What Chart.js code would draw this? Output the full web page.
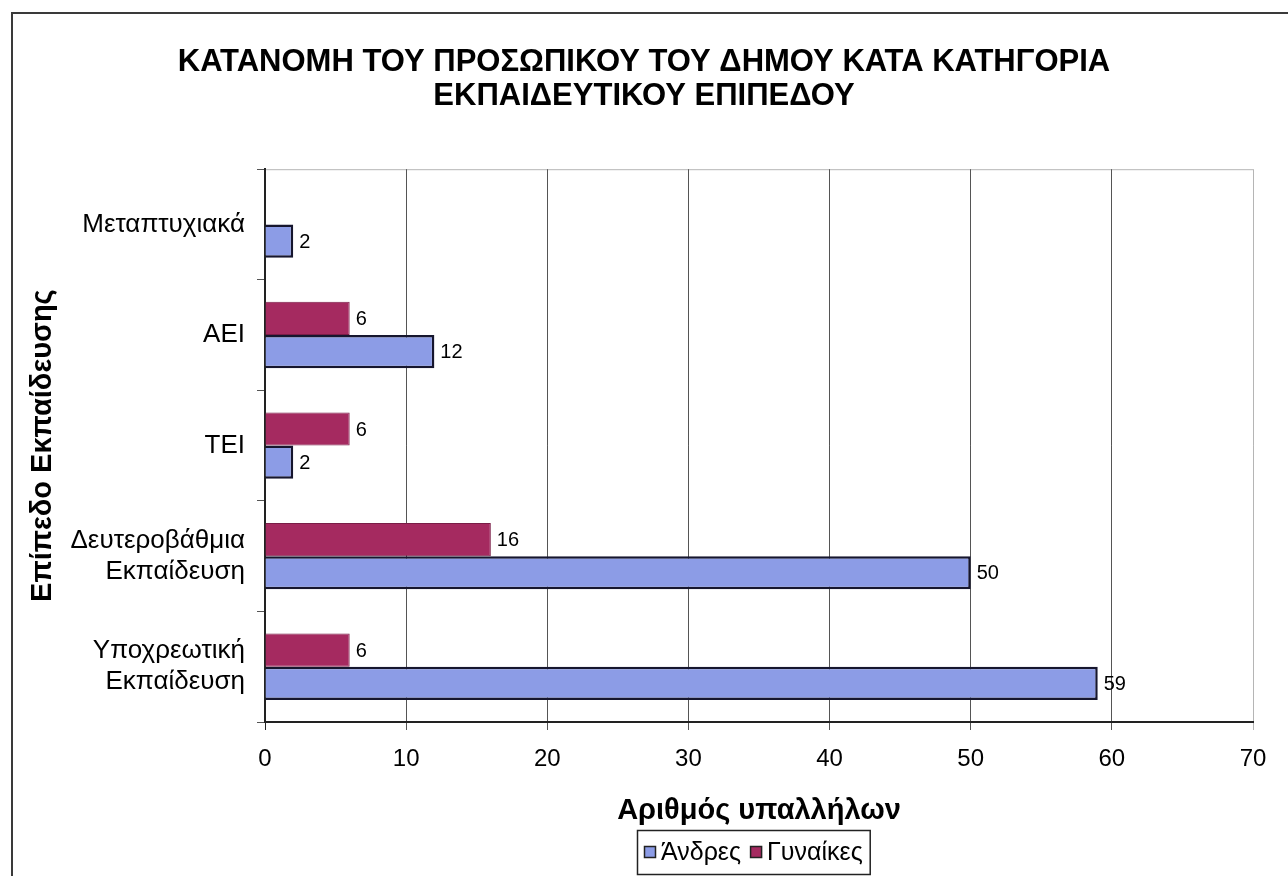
<!DOCTYPE html>
<html lang="el">
<head>
<meta charset="UTF-8">
<title>Κατανομή του προσωπικού του Δήμου</title>
<script src="https://cdn.jsdelivr.net/npm/chart.js"></script>
<style>
  html, body { margin: 0; padding: 0; background: #fff; }
  #wrap { width: 1288px; height: 876px; }
</style>
</head>
<body>
<div id="wrap"><canvas id="eduChart" width="1288" height="876"></canvas></div>
<script>
// education levels, top to bottom
const levels = [['Μεταπτυχιακά'], ['ΑΕΙ'], ['ΤΕΙ'], ['Δευτεροβάθμια', 'Εκπαίδευση'], ['Υποχρεωτική', 'Εκπαίδευση']];
const men = [2, 12, 2, 50, 59];
const women = [null, 6, 6, 16, 6];
const xMin = 0, xMax = 70, xStep = 10;

const titleLines = ['ΚΑΤΑΝΟΜΗ ΤΟΥ ΠΡΟΣΩΠΙΚΟΥ ΤΟΥ ΔΗΜΟΥ ΚΑΤΑ ΚΑΤΗΓΟΡΙΑ', 'ΕΚΠΑΙΔΕΥΤΙΚΟΥ ΕΠΙΠΕΔΟΥ'];

const BLUE = '#8c9ce6', BLUE_EDGE = '#16162e';
const RED = '#a52a60', RED_EDGE = '#7a1d47';
const FONT = '"Liberation Sans", Arial, sans-serif';

Chart.defaults.font.family = FONT;
Chart.defaults.color = '#000';

// outer frame + light top edge of the plot
const framePlugin = {
  id: 'frame',
  beforeDraw(chart) {
    const { ctx, chartArea: a } = chart;
    ctx.save();
    ctx.strokeStyle = '#3a3a3a';
    ctx.lineWidth = 2;
    ctx.beginPath();
    ctx.moveTo(12, 876); ctx.lineTo(12, 13); ctx.lineTo(1288, 13);
    ctx.stroke();
    ctx.strokeStyle = '#b5b5b5';
    ctx.lineWidth = 1;
    ctx.beginPath();
    ctx.moveTo(a.left, a.top + 0.5); ctx.lineTo(a.right, a.top + 0.5);
    ctx.stroke();
    ctx.restore();
  }
};

// value next to the end of each bar
const valueLabels = {
  id: 'valueLabels',
  afterDatasetsDraw(chart) {
    const ctx = chart.ctx;
    ctx.save();
    ctx.font = '20px ' + FONT;
    ctx.fillStyle = '#000';
    ctx.textAlign = 'left';
    ctx.textBaseline = 'middle';
    chart.data.datasets.forEach((ds, i) => {
      chart.getDatasetMeta(i).data.forEach((bar, j) => {
        const v = ds.data[j];
        if (v == null) return;
        ctx.fillText(String(v), bar.x + 6, bar.y + 1);
      });
    });
    ctx.restore();
  }
};

// boxed legend centred under the axis title
const boxLegend = {
  id: 'boxLegend',
  afterDraw(chart) {
    const ctx = chart.ctx;
    const items = [
      { text: 'Άνδρες', fill: BLUE },
      { text: 'Γυναίκες', fill: RED }
    ];
    const cx = 753, cy = 852, sq = 12, gap = 5, itemGap = 9, padX = 7, h = 44;
    ctx.save();
    ctx.font = '25px ' + FONT;
    const widths = items.map(it => sq + gap + ctx.measureText(it.text).width);
    const w = widths.reduce((s, x) => s + x, 0) + itemGap * (items.length - 1) + padX * 2;
    const left = Math.round(cx - w / 2), top = Math.round(cy - h / 2);
    ctx.fillStyle = '#fff';
    ctx.fillRect(left, top, w, h);
    ctx.strokeStyle = '#222';
    ctx.lineWidth = 1.5;
    ctx.strokeRect(left + 0.5, top + 0.5, w, h);
    let x = left + padX;
    ctx.textBaseline = 'middle';
    items.forEach((it, i) => {
      ctx.fillStyle = it.fill;
      ctx.fillRect(x, cy - sq / 2, sq, sq);
      ctx.strokeStyle = '#222';
      ctx.lineWidth = 1.5;
      ctx.strokeRect(x + 0.5, cy - sq / 2 + 0.5, sq - 1, sq - 1);
      ctx.fillStyle = '#000';
      ctx.fillText(it.text, x + sq + gap, cy + 1);
      x += widths[i] + itemGap;
    });
    ctx.restore();
  }
};

new Chart(document.getElementById('eduChart'), {
  type: 'bar',
  data: {
    labels: levels,
    datasets: [
      {
        label: 'Γυναίκες',
        data: women,
        backgroundColor: RED,
        borderColor: RED_EDGE,
        borderWidth: 1
      },
      {
        label: 'Άνδρες',
        data: men,
        backgroundColor: BLUE,
        borderColor: BLUE_EDGE,
        borderWidth: 2.5
      }
    ]
  },
  options: {
    responsive: false,
    animation: false,
    indexAxis: 'y',
    categoryPercentage: 0.6,
    barPercentage: 1,
    layout: { padding: { left: 0, right: 0, top: 0, bottom: 47 } },
    plugins: {
      legend: { display: false },
      tooltip: { enabled: false },
      title: {
        display: true,
        text: titleLines,
        color: '#000',
        font: { size: 31, weight: 'bold', lineHeight: 1.1 },
        padding: { top: 45, bottom: 56 }
      }
    },
    scales: {
      x: {
        type: 'linear',
        min: xMin,
        max: xMax,
        ticks: { stepSize: xStep, font: { size: 24 }, color: '#000', padding: 15 },
        grid: {
          color: ctx => ctx.index === 0 ? '#222' : (ctx.tick && ctx.tick.value === xMax ? '#b5b5b5' : '#555'),
          tickLength: 8,
          lineWidth: 1
        },
        border: { color: '#222', width: 2 },
        title: {
          display: true,
          text: 'Αριθμός υπαλλήλων',
          color: '#000',
          font: { size: 29, weight: 'bold' },
          padding: { top: 0, bottom: 1 }
        },
        afterFit(s) { s.height = 107; }
      },
      y: {
        type: 'category',
        grid: { drawOnChartArea: false, drawTicks: true, tickLength: 8, color: '#555', offset: true },
        border: { color: '#222', width: 2 },
        ticks: { font: { size: 26, lineHeight: 1.2 }, color: '#000', padding: 12 },
        title: {
          display: true,
          text: 'Επίπεδο Εκπαίδευσης',
          color: '#000',
          font: { size: 29, weight: 'bold' },
          padding: { top: 26, bottom: 0 }
        },
        afterFit(s) { s.width = 265; }
      },
      // empty right-hand margin so the title centres on the whole chart
      yRight: {
        type: 'linear',
        position: 'right',
        min: 0,
        max: 1,
        ticks: { display: false },
        grid: { display: false },
        border: { display: false },
        afterFit(s) { s.width = 35; }
      }
    }
  },
  plugins: [framePlugin, valueLabels, boxLegend]
});
</script>
</body>
</html>
